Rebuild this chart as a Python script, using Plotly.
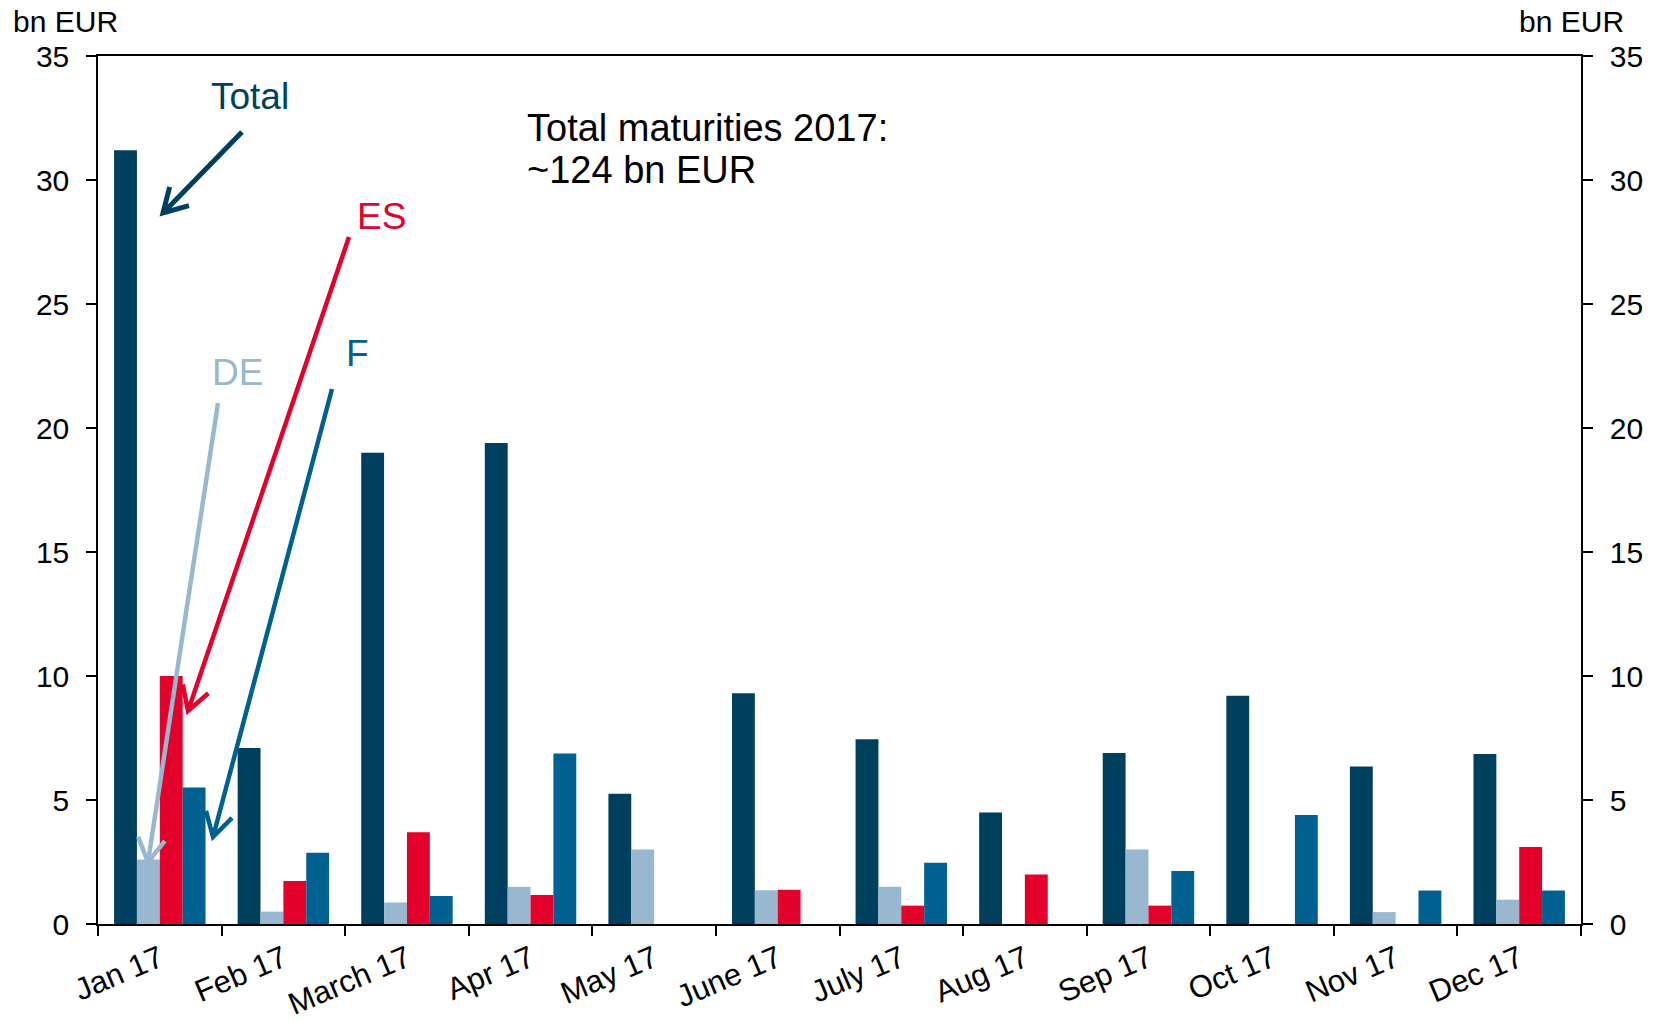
import plotly.graph_objects as go
import math

months = ["Jan 17", "Feb 17", "March 17", "Apr 17", "May 17", "June 17",
          "July 17", "Aug 17", "Sep 17", "Oct 17", "Nov 17", "Dec 17"]
total = [31.2, 7.1, 19.0, 19.4, 5.25, 9.3, 7.45, 4.5, 6.9, 9.2, 6.35, 6.85]
de = [2.6, 0.5, 0.87, 1.5, 3.0, 1.36, 1.5, 0, 3.0, 0, 0.48, 0.98]
es = [10.0, 1.73, 3.7, 1.17, 0, 1.38, 0.74, 2.0, 0.74, 0, 0, 3.1]
fr = [5.5, 2.87, 1.13, 6.88, 0, 0, 2.47, 0, 2.14, 4.4, 1.35, 1.35]

C_TOTAL = "#00405F"
C_DE = "#99B7CE"
C_ES = "#E3002B"
C_F = "#00608F"

FONT = "Liberation Sans, Arial, sans-serif"
W, H = 1661, 1021
ML, MR, MT, MB = 98, 80, 56, 97
PW = W - ML - MR
PH = H - MT - MB

fig = go.Figure()
for name, vals, col in [("Total", total, C_TOTAL), ("DE", de, C_DE),
                        ("ES", es, C_ES), ("F", fr, C_F)]:
    fig.add_trace(go.Bar(x=months, y=vals, name=name, marker_color=col,
                         marker_line_width=0, showlegend=False))

# invisible trace to carry the right-hand axis
fig.add_trace(go.Scatter(x=months, y=total, yaxis="y2", mode="lines",
                         line=dict(width=0), opacity=0, showlegend=False,
                         hoverinfo="skip"))

axis_common = dict(range=[0, 35], dtick=5, ticks="outside", ticklen=10,
                   tickwidth=1.5, tickcolor="black", showgrid=False,
                   zeroline=False, showline=True, linecolor="black",
                   linewidth=1.5, ticklabelstandoff=11,
                   tickfont=dict(size=30, color="black", family=FONT))

fig.update_layout(
    width=W, height=H,
    margin=dict(l=ML, r=MR, t=MT, b=MB, autoexpand=False),
    plot_bgcolor="white", paper_bgcolor="white",
    barmode="group", bargap=0.26, bargroupgap=0,
    font=dict(family=FONT, color="black"),
    xaxis=dict(type="category", tickson="boundaries", ticks="outside",
               ticklen=10, tickwidth=1.5, tickcolor="black", showline=True,
               linecolor="black", linewidth=1.5, mirror=True, showgrid=False,
               tickangle=-23, ticklabelstandoff=3, automargin=False,
               tickfont=dict(size=31, color="black", family=FONT)),
    yaxis=dict(**axis_common, side="left", automargin=False),
    yaxis2=dict(**axis_common, side="right", overlaying="y", automargin=False),
)


def px2paper(px, py):
    return (px - ML) / PW, (H - MB - py) / PH


def arrow(tail, tip, color, width=4.5, wing=27, ang=30):
    dx, dy = tail[0] - tip[0], tail[1] - tip[1]
    base = math.atan2(dy, dx)
    pts = []
    for s in (-1, 1):
        a = base + s * math.radians(ang)
        pts.append((tip[0] + wing * math.cos(a), tip[1] + wing * math.sin(a)))
    t = px2paper(*tail)
    p = px2paper(*tip)
    w1 = px2paper(*pts[0])
    w2 = px2paper(*pts[1])
    path = (f"M {t[0]:.5f},{t[1]:.5f} L {p[0]:.5f},{p[1]:.5f} "
            f"M {w1[0]:.5f},{w1[1]:.5f} L {p[0]:.5f},{p[1]:.5f} L {w2[0]:.5f},{w2[1]:.5f}")
    fig.add_shape(type="path", path=path, xref="paper", yref="paper",
                  line=dict(color=color, width=width), layer="above")


arrow((242, 132), (163, 213), C_TOTAL, width=5)
arrow((349, 237), (188, 711), C_ES)
arrow((218, 403), (148, 862), C_DE)
arrow((332, 389), (213, 837), C_F)


def label(text, px, py, color, size, xanchor="left"):
    x, y = px2paper(px, py)
    fig.add_annotation(text=text, x=x, y=y, xref="paper", yref="paper",
                       xanchor=xanchor, yanchor="middle", showarrow=False,
                       font=dict(size=size, color=color, family=FONT))


label("Total", 209, 96, C_TOTAL, 37)
label("ES", 355, 217, C_ES, 37)
label("DE", 210, 373, C_DE, 37)
label("F", 344, 353, C_F, 37)
label("Total maturities 2017:", 525, 128, "black", 38)
label("~124 bn EUR", 525, 170, "black", 38)
label("bn EUR", 11, 21, "black", 30)
label("bn EUR", 1626, 21, "black", 30, xanchor="right")

fig.write_html("out.html", config={"displayModeBar": False},
               post_script="document.body.style.margin='0';")
